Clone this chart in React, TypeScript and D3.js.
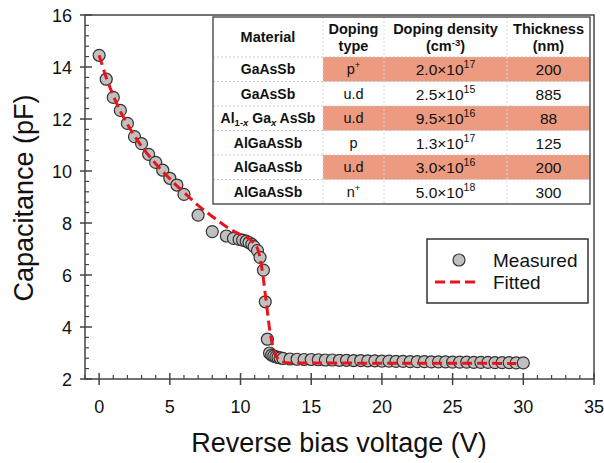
import React from "react";
import * as d3 from "d3";

// measured C-V points (V, pF)
const measuredV = [
  0, 0.5, 1, 1.5, 2, 2.5, 3, 3.5, 4, 4.5, 5, 5.5, 6, 7, 8, 9, 9.5, 9.9, 10.15, 10.4,
  10.6, 10.8, 10.96, 11.2, 11.38, 11.62, 11.75, 11.9, 12.05, 12.2, 12.35, 12.5, 12.65,
  12.8, 13, 13.5, 14, 14.5, 15, 15.5, 16, 16.5, 17, 17.5, 18, 18.5, 19, 19.5, 20,
  20.5, 21, 21.5, 22, 22.5, 23, 23.5, 24, 24.5, 25, 25.5, 26, 26.5, 27, 27.5, 28,
  28.5, 29, 29.5, 30,
];
const measuredC = [
  14.45, 13.53, 12.83, 12.33, 11.83, 11.32, 11.05, 10.64, 10.33, 10.03, 9.72, 9.46,
  9.1, 8.3, 7.67, 7.5, 7.41, 7.37, 7.34, 7.3, 7.25, 7.18, 7.09, 6.94, 6.68, 6.19,
  4.97, 3.53, 3.0, 2.92, 2.88, 2.85, 2.83, 2.81, 2.79, 2.77, 2.76, 2.75, 2.75, 2.74,
  2.73, 2.73, 2.72, 2.72, 2.71, 2.71, 2.7, 2.7, 2.69, 2.69, 2.68, 2.68, 2.67, 2.67,
  2.67, 2.66, 2.66, 2.66, 2.65, 2.65, 2.65, 2.64, 2.64, 2.64, 2.63, 2.63, 2.63, 2.62,
  2.62,
];

// fitted curve
const fittedV = [0, 0.5, 1, 1.5, 2, 2.5, 3, 3.5, 4, 4.5, 5, 5.5, 6, 7, 8, 9, 10, 10.7, 11.2, 11.5, 11.8, 12.1, 12.44, 12.8, 13.5, 29.5];
const fittedC = [14.45, 13.6, 12.9, 12.3, 11.8, 11.35, 10.95, 10.6, 10.28, 9.98, 9.7, 9.43, 9.18, 8.68, 8.25, 7.86, 7.55, 7.35, 7.02, 6.3, 5.05, 3.76, 2.99, 2.7, 2.62, 2.6];

const xTicks = [0, 5, 10, 15, 20, 25, 30, 35];
const yTicks = [2, 4, 6, 8, 10, 12, 14, 16];

// layer table
const materials = ["GaAsSb", "GaAsSb", "AlGa", "AlGaAsSb", "AlGaAsSb", "AlGaAsSb"];
const dopingTypes = ["p", "u.d", "u.d", "p", "u.d", "n"];
const dopingSup = ["+", "", "", "", "", "+"];
const densityBase = ["2.0", "2.5", "9.5", "1.3", "3.0", "5.0"];
const densityExp = ["17", "15", "16", "17", "16", "18"];
const thickness = ["200", "885", "88", "125", "200", "300"];
const highlighted = [true, false, true, false, true, false];

const W = 604;
const H = 463;
const FONT = "Arial, 'Liberation Sans', sans-serif";

export default function App() {
  const x = d3.scaleLinear().domain([-1, 35]).range([85, 594]);
  const y = d3.scaleLinear().domain([2, 16]).range([379, 15]);

  const xMinor = d3.range(-1, 36, 1).filter((v) => v % 5 !== 0);
  const yMinor = d3.range(2, 16.001, 0.4).filter((v) => Math.abs(v / 2 - Math.round(v / 2)) > 0.01);

  const line = d3
    .line<number>()
    .x((d) => x(d))
    .y((_, i) => y(fittedC[i]))
    .curve(d3.curveMonotoneX);

  const [x0, x1] = x.range();
  const [y0, y1] = y.range();

  // table layout
  const cols = [213, 323, 384, 507, 590];
  const tTop = 17;
  const headH = 40;
  const rowH = 24.5;
  const colMid = (i: number) => (cols[i] + cols[i + 1]) / 2;
  const rowMid = (i: number) => tTop + headH + rowH * i + rowH / 2;

  const axisColor = "#444";

  return (
    <svg width={W} height={H} style={{ position: "absolute", left: 0, top: 0, background: "#fff" }} fontFamily={FONT}>
      {/* frame */}
      <rect x={x0} y={y1} width={x1 - x0} height={y0 - y1} fill="none" stroke={axisColor} strokeWidth={1.5} />

      {/* x ticks */}
      {xTicks.map((t) => (
        <g key={"xt" + t}>
          <line x1={x(t)} x2={x(t)} y1={y0 - 6} y2={y0 + 6} stroke={axisColor} strokeWidth={1.5} />
          <text x={x(t)} y={413} textAnchor="middle" fontSize={18} fill="#111">{t}</text>
        </g>
      ))}
      {xMinor.map((t) => (
        <line key={"xm" + t} x1={x(t)} x2={x(t)} y1={y0} y2={y0 - 4} stroke={axisColor} strokeWidth={1.2} />
      ))}

      {/* y ticks */}
      {yTicks.map((t) => (
        <g key={"yt" + t}>
          <line x1={x0 - 5} x2={x0 + 7} y1={y(t)} y2={y(t)} stroke={axisColor} strokeWidth={1.5} />
          <text x={72} y={y(t) + 6.5} textAnchor="end" fontSize={18} fill="#111">{t}</text>
        </g>
      ))}
      {yMinor.map((t) => (
        <line key={"ym" + t} x1={x0} x2={x0 + 4} y1={y(t)} y2={y(t)} stroke={axisColor} strokeWidth={1.2} />
      ))}

      {/* axis titles */}
      <text x={339} y={452} textAnchor="middle" fontSize={27} fill="#111">Reverse bias voltage (V)</text>
      <text transform={`translate(33,198) rotate(-90)`} textAnchor="middle" fontSize={27} fill="#111">Capacitance (pF)</text>

      {/* measured points */}
      {measuredV.map((v, i) => (
        <circle key={"m" + i} cx={x(v)} cy={y(measuredC[i])} r={6} fill="#c0c0c0" stroke="#333" strokeWidth={1.2} />
      ))}

      {/* fitted line */}
      <path d={line(fittedV) || ""} fill="none" stroke="#e8141a" strokeWidth={3} strokeDasharray="10,5" />

      {/* table */}
      <rect x={cols[0]} y={tTop} width={cols[4] - cols[0]} height={headH + rowH * 6} fill="#fff" />
      {highlighted.map((h, i) =>
        h ? (
          <rect key={"hl" + i} x={cols[1]} y={tTop + headH + rowH * i} width={cols[4] - cols[1]} height={rowH} fill="#ec9a80" />
        ) : null
      )}
      {d3.range(0, 6).map((i) => (
        <line key={"rl" + i} x1={cols[0]} x2={cols[4]} y1={tTop + headH + rowH * i} y2={tTop + headH + rowH * i} stroke="#c8c8c8" strokeWidth={1} strokeDasharray="2,2" />
      ))}
      {[1, 2, 3].map((c) => (
        <line key={"cl" + c} x1={cols[c]} x2={cols[c]} y1={tTop} y2={tTop + headH + rowH * 6} stroke="#d8d8d8" strokeWidth={1} strokeDasharray="2,2" />
      ))}
      <rect x={cols[0]} y={tTop} width={cols[4] - cols[0]} height={headH + rowH * 6} fill="none" stroke="#555" strokeWidth={1.5} />

      {/* header */}
      <g fontWeight="bold" fontSize={14.5} fill="#111" textAnchor="middle">
        <text x={colMid(0)} y={tTop + 25}>Material</text>
        <text x={colMid(1)} y={tTop + 17}>Doping</text>
        <text x={colMid(1)} y={tTop + 34}>type</text>
        <text x={colMid(2)} y={tTop + 17}>Doping density</text>
        <text x={colMid(2)} y={tTop + 34}>
          (cm<tspan dy={-5} fontSize={9.5}>-3</tspan><tspan dy={5}>)</tspan>
        </text>
        <text x={colMid(3)} y={tTop + 17}>Thickness</text>
        <text x={colMid(3)} y={tTop + 34}>(nm)</text>
      </g>

      {/* body */}
      {materials.map((m, i) => (
        <g key={"row" + i} fill="#111" textAnchor="middle">
          {m === "AlGa" ? (
            <text x={colMid(0)} y={rowMid(i) + 5} fontWeight="bold" fontSize={14}>
              Al<tspan dy={3} fontSize={9.5}>1-<tspan fontStyle="italic">x</tspan></tspan>
              <tspan dy={-3}> Ga</tspan><tspan dy={3} fontSize={9.5} fontStyle="italic">x</tspan>
              <tspan dy={-3}> AsSb</tspan>
            </text>
          ) : (
            <text x={colMid(0)} y={rowMid(i) + 5} fontWeight="bold" fontSize={14}>{m}</text>
          )}
          <text x={colMid(1)} y={rowMid(i) + 5} fontSize={14.5}>
            {dopingTypes[i]}
            {dopingSup[i] ? <tspan dy={-6} fontSize={9.5}>{dopingSup[i]}</tspan> : null}
          </text>
          <text x={colMid(2)} y={rowMid(i) + 6} fontSize={15.5}>
            {densityBase[i]}×10<tspan dy={-7} fontSize={10.5}>{densityExp[i]}</tspan>
          </text>
          <text x={colMid(3)} y={rowMid(i) + 6} fontSize={15.5}>{thickness[i]}</text>
        </g>
      ))}

      {/* legend */}
      <rect x={427} y={239} width={161} height={64} fill="#fff" stroke="#333" strokeWidth={1.5} />
      <circle cx={459} cy={260} r={6} fill="#c0c0c0" stroke="#333" strokeWidth={1.2} />
      <text x={493} y={267} fontSize={19} fill="#111">Measured</text>
      <line x1={435} x2={478} y1={282} y2={282} stroke="#e8141a" strokeWidth={3} strokeDasharray="10,5" />
      <text x={493} y={289} fontSize={19} fill="#111">Fitted</text>
    </svg>
  );
}
